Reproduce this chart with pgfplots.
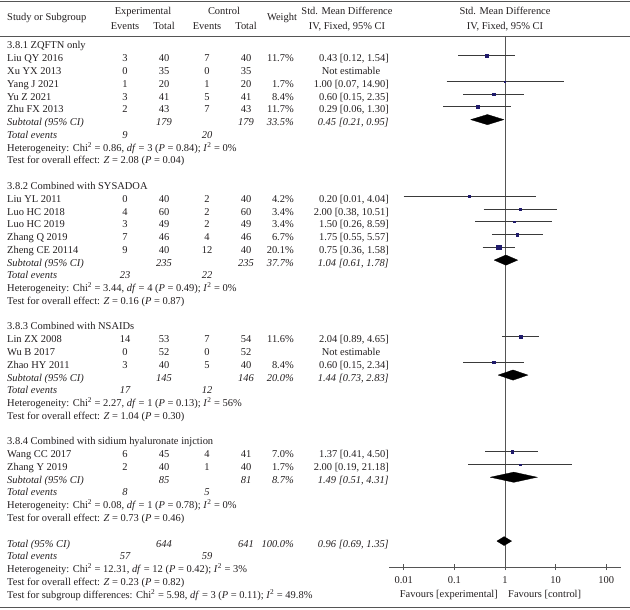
\documentclass[border=0pt]{standalone}
\usepackage{pgfplots}
\pgfplotsset{compat=1.18}
\usepackage{fontspec}
\setmainfont{Liberation Serif}
\definecolor{txt}{HTML}{231F20}
\definecolor{navy}{HTML}{1F1A6B}
\definecolor{ci}{HTML}{3A3A3A}
\definecolor{vline}{HTML}{555555}
\definecolor{rule}{HTML}{555555}
\newcommand\tf{\fontsize{10.5}{12}\selectfont}
\newcommand\ry[1]{{49+12.77*#1}}
\newcommand\sq{\textsuperscript{2}}
\newcommand\study[8]{%
 \node[anchor=base west] at (7,\ry{#1}) {#2};
 \node[anchor=base] at (125,\ry{#1}) {#3};
 \node[anchor=base] at (164,\ry{#1}) {#4};
 \node[anchor=base] at (207,\ry{#1}) {#5};
 \node[anchor=base] at (246,\ry{#1}) {#6};
 \node[anchor=base east] at (294,\ry{#1}) {#7};
 \node[anchor=base east] at (389,\ry{#1}) {#8};}
\newcommand\studyne[6]{%
 \node[anchor=base west] at (7,\ry{#1}) {#2};
 \node[anchor=base] at (125,\ry{#1}) {#3};
 \node[anchor=base] at (164,\ry{#1}) {#4};
 \node[anchor=base] at (207,\ry{#1}) {#5};
 \node[anchor=base] at (246,\ry{#1}) {#6};
 \node[anchor=base] at (351,\ry{#1}) {Not estimable};}
\newcommand\subt[6]{%
 \node[anchor=base west] at (7,\ry{#1}) {\itshape #2};
 \node[anchor=base] at (164,\ry{#1}) {\itshape #3};
 \node[anchor=base] at (246,\ry{#1}) {\itshape #4};
 \node[anchor=base east] at (294,\ry{#1}) {\itshape #5};
 \node[anchor=base east] at (389,\ry{#1}) {\itshape #6};}
\newcommand\tev[3]{%
 \node[anchor=base west] at (7,\ry{#1}) {\itshape Total events};
 \node[anchor=base] at (125,\ry{#1}) {\itshape #2};
 \node[anchor=base] at (207,\ry{#1}) {\itshape #3};}
\newcommand\txtline[2]{\node[anchor=base west] at (7,\ry{#1}) {#2};}
\begin{document}
\begin{tikzpicture}
\begin{scope}[x=1bp,y=-1bp,every node/.style={inner sep=0pt,text=txt,font=\tf}]
\useasboundingbox (0,0) rectangle (630,610);
\draw[rule,line width=0.8bp] (0,1.5) -- (630,1.5);
\draw[rule,line width=0.9bp] (0,36) -- (630,36);
\draw[rule,line width=1.4bp] (0,607.5) -- (630,607.5);
% headers
\node[anchor=base west] at (7,20.5) {Study or Subgroup};
\node[anchor=base] at (143,15) {Experimental};
\node[anchor=base] at (125,29.5) {Events};
\node[anchor=base] at (164,29.5) {Total};
\node[anchor=base] at (224,15) {Control};
\node[anchor=base] at (207,29.5) {Events};
\node[anchor=base] at (246,29.5) {Total};
\node[anchor=base] at (282,20.5) {Weight};
\node[anchor=base] at (347,15) {Std. Mean Difference};
\node[anchor=base] at (347,29.5) {IV, Fixed, 95\% CI};
\node[anchor=base] at (505,15) {Std. Mean Difference};
\node[anchor=base] at (505,29.5) {IV, Fixed, 95\% CI};
% group 1
\txtline{0}{3.8.1 ZQFTN only}
\study{1}{Liu QY 2016}{3}{40}{7}{40}{11.7\%}{0.43 [0.12, 1.54]}
\studyne{2}{Xu YX 2013}{0}{35}{0}{35}
\study{3}{Yang J 2021}{1}{20}{1}{20}{1.7\%}{1.00 [0.07, 14.90]}
\study{4}{Yu Z 2021}{3}{41}{5}{41}{8.4\%}{0.60 [0.15, 2.35]}
\study{5}{Zhu FX 2013}{2}{43}{7}{43}{11.7\%}{0.29 [0.06, 1.30]}
\subt{6}{Subtotal (95\% CI)}{179}{179}{33.5\%}{0.45 [0.21, 0.95]}
\tev{7}{9}{20}
\txtline{8}{Heterogeneity: Chi\sq{} = 0.86, \textit{df} = 3 (\textit{P} = 0.84); \textit{I}\sq{} = 0\%}
\txtline{9}{Test for overall effect: \textit{Z} = 2.08 (\textit{P} = 0.04)}
% group 2
\txtline{11}{3.8.2 Combined with SYSADOA}
\study{12}{Liu YL 2011}{0}{40}{2}{40}{4.2\%}{0.20 [0.01, 4.04]}
\study{13}{Luo HC 2018}{4}{60}{2}{60}{3.4\%}{2.00 [0.38, 10.51]}
\study{14}{Luo HC 2019}{3}{49}{2}{49}{3.4\%}{1.50 [0.26, 8.59]}
\study{15}{Zhang Q 2019}{7}{46}{4}{46}{6.7\%}{1.75 [0.55, 5.57]}
\study{16}{Zheng CE 20114}{9}{40}{12}{40}{20.1\%}{0.75 [0.36, 1.58]}
\subt{17}{Subtotal (95\% CI)}{235}{235}{37.7\%}{1.04 [0.61, 1.78]}
\tev{18}{23}{22}
\txtline{19}{Heterogeneity: Chi\sq{} = 3.44, \textit{df} = 4 (\textit{P} = 0.49); \textit{I}\sq{} = 0\%}
\txtline{20}{Test for overall effect: \textit{Z} = 0.16 (\textit{P} = 0.87)}
% group 3
\txtline{22}{3.8.3 Combined with NSAIDs}
\study{23}{Lin ZX 2008}{14}{53}{7}{54}{11.6\%}{2.04 [0.89, 4.65]}
\studyne{24}{Wu B 2017}{0}{52}{0}{52}
\study{25}{Zhao HY 2011}{3}{40}{5}{40}{8.4\%}{0.60 [0.15, 2.34]}
\subt{26}{Subtotal (95\% CI)}{145}{146}{20.0\%}{1.44 [0.73, 2.83]}
\tev{27}{17}{12}
\txtline{28}{Heterogeneity: Chi\sq{} = 2.27, \textit{df} = 1 (\textit{P} = 0.13); \textit{I}\sq{} = 56\%}
\txtline{29}{Test for overall effect: \textit{Z} = 1.04 (\textit{P} = 0.30)}
% group 4
\txtline{31}{3.8.4 Combined with sidium hyaluronate injction}
\study{32}{Wang CC 2017}{6}{45}{4}{41}{7.0\%}{1.37 [0.41, 4.50]}
\study{33}{Zhang Y 2019}{2}{40}{1}{40}{1.7\%}{2.00 [0.19, 21.18]}
\subt{34}{Subtotal (95\% CI)}{85}{81}{8.7\%}{1.49 [0.51, 4.31]}
\tev{35}{8}{5}
\txtline{36}{Heterogeneity: Chi\sq{} = 0.08, \textit{df} = 1 (\textit{P} = 0.78); \textit{I}\sq{} = 0\%}
\txtline{37}{Test for overall effect: \textit{Z} = 0.73 (\textit{P} = 0.46)}
% total
\subt{39}{Total (95\% CI)}{644}{641}{100.0\%}{0.96 [0.69, 1.35]}
\tev{40}{57}{59}
\txtline{41}{Heterogeneity: Chi\sq{} = 12.31, \textit{df} = 12 (\textit{P} = 0.42); \textit{I}\sq{} = 3\%}
\txtline{42}{Test for overall effect: \textit{Z} = 0.23 (\textit{P} = 0.82)}
\txtline{43}{Test for subgroup differences: Chi\sq{} = 5.98, \textit{df} = 3 (\textit{P} = 0.11); \textit{I}\sq{} = 49.8\%}
% favours
\node[anchor=base east] at (498,597.5) {Favours [experimental]};
\node[anchor=base west] at (508,597.5) {Favours [control]};
\end{scope}
\begin{axis}[
 at={(389bp,-36bp)}, anchor=north west,
 scale only axis, width=231.7bp, height=531bp,
 xmode=log, xmin=0.00513, xmax=192.3,
 ymin=-41.03, ymax=0.548,
 axis x line=bottom, axis y line=none,
 x axis line style={-, draw=vline, line width=0.9bp},
 xtick={0.01,0.1,1,10,100},
 xticklabels={0.01,0.1,1,10,100},
 xminorticks=false,
 tick align=center, major tick length=6bp,
 tick style={draw=vline, line width=0.9bp},
 xticklabel style={font=\tf, text=txt, yshift=-3bp},
 clip=false,
 unbounded coords=jump,
]
\addplot[vline, line width=0.9bp] coordinates {(1,0.548) (1,-41.03)};
\addplot[ci, line width=0.8bp] coordinates {
 (0.12,-1) (1.54,-1) (nan,nan)
 (0.07,-3) (14.90,-3) (nan,nan)
 (0.15,-4) (2.35,-4) (nan,nan)
 (0.06,-5) (1.30,-5) (nan,nan)
 (0.01,-12) (4.04,-12) (nan,nan)
 (0.38,-13) (10.51,-13) (nan,nan)
 (0.26,-14) (8.59,-14) (nan,nan)
 (0.55,-15) (5.57,-15) (nan,nan)
 (0.36,-16) (1.58,-16) (nan,nan)
 (0.89,-23) (4.65,-23) (nan,nan)
 (0.15,-25) (2.34,-25) (nan,nan)
 (0.41,-32) (4.50,-32) (nan,nan)
 (0.19,-33) (21.18,-33)
};
\addplot[only marks, mark=square*, scatter,
 scatter/use mapped color={draw=navy, fill=navy},
 visualization depends on={0.47*sqrt(\thisrow{w}) \as \ms},
 scatter/@pre marker code/.append style={/tikz/mark size=\ms, /tikz/line width=0pt}]
 table[x=est, y=row] {
est row w
0.43 -1 11.7
1.00 -3 1.7
0.60 -4 8.4
0.29 -5 11.7
0.20 -12 4.2
2.00 -13 3.4
1.50 -14 3.4
1.75 -15 6.7
0.75 -16 20.1
2.04 -23 11.6
0.60 -25 8.4
1.37 -32 7.0
2.00 -33 1.7
};
\addplot[fill=black, draw=black, line width=0.3bp] coordinates {(0.21,-6) (0.45,-5.6) (0.95,-6) (0.45,-6.4) (0.21,-6)};
\addplot[fill=black, draw=black, line width=0.3bp] coordinates {(0.61,-17) (1.04,-16.6) (1.78,-17) (1.04,-17.4) (0.61,-17)};
\addplot[fill=black, draw=black, line width=0.3bp] coordinates {(0.73,-26) (1.44,-25.6) (2.83,-26) (1.44,-26.4) (0.73,-26)};
\addplot[fill=black, draw=black, line width=0.3bp] coordinates {(0.51,-34) (1.49,-33.6) (4.31,-34) (1.49,-34.4) (0.51,-34)};
\addplot[fill=black, draw=black, line width=0.3bp] coordinates {(0.69,-39) (0.96,-38.65) (1.35,-39) (0.96,-39.35) (0.69,-39)};
\end{axis}
\end{tikzpicture}
\end{document}
